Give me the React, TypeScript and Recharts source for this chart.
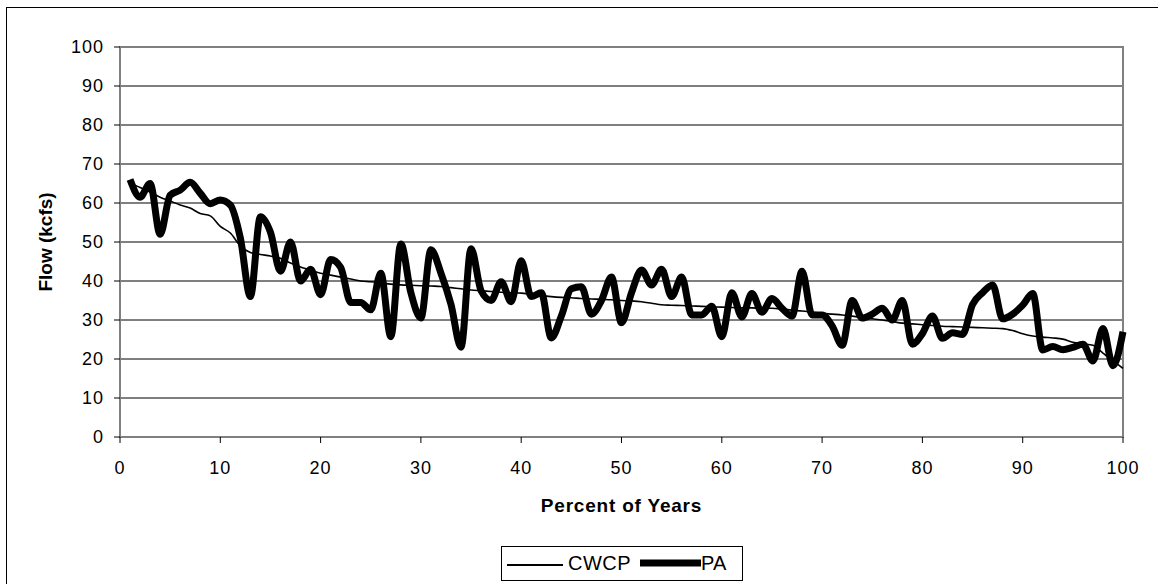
import React from 'react';
import {
  LineChart,
  Line,
  XAxis,
  YAxis,
  CartesianGrid,
  ReferenceArea,
} from 'recharts';

// Percent of years (x positions of each ranked year)
const PERCENT = [
  1, 2, 3, 4, 5, 6, 7, 8, 9, 10,
  11, 12, 13, 14, 15, 16, 17, 18, 19, 20,
  21, 22, 23, 24, 25, 26, 27, 28, 29, 30,
  31, 32, 33, 34, 35, 36, 37, 38, 39, 40,
  41, 42, 43, 44, 45, 46, 47, 48, 49, 50,
  51, 52, 53, 54, 55, 56, 57, 58, 59, 60,
  61, 62, 63, 64, 65, 66, 67, 68, 69, 70,
  71, 72, 73, 74, 75, 76, 77, 78, 79, 80,
  81, 82, 83, 84, 85, 86, 87, 88, 89, 90,
  91, 92, 93, 94, 95, 96, 97, 98, 99, 100,
];

// Flow (kcfs), CWCP exceedance
const CWCP = [
  65, 64, 62.8, 61.5, 60.5, 59.5, 58.7, 57.3, 56.7, 54,
  52.3, 49, 47.3, 46.8, 46.4, 45.8, 44.6, 43.6, 42.8, 42,
  41.5, 41, 40.5, 40, 39.8, 39.5, 39.2, 39, 38.9, 38.8,
  38.7, 38.6, 38.3, 38, 37.7, 37.5, 37.3, 37.1, 37, 36.9,
  36.6, 36.3, 36, 35.8, 35.7, 35.5, 35.4, 35.3, 35.2, 35,
  34.9, 34.7, 34.3, 33.9, 33.8, 33.7, 33.6, 33.5, 33.4, 33.3,
  33.2, 33.1, 33.1, 33, 33, 32.8, 32.5, 32.3, 32, 31.7,
  31.5, 31.3, 31, 30.6, 30.3, 30, 29.6, 29.2, 29, 28.8,
  28.6, 28.4, 28.3, 28.2, 28.1, 28, 27.9, 27.8, 27.3, 26.5,
  25.9, 25.6, 25.4, 25.1, 24.3, 23.9, 23.5, 21.5, 19.5, 17.6,
];

// Flow (kcfs), PA in the same year order
const PA = [
  66, 61.5, 65, 52, 62, 63.3, 65.3, 62.5, 59.8, 60.8,
  59.5, 51, 36, 56.5, 52.5, 42.5, 50, 40, 43, 36.5,
  45.5, 43.5, 34.5, 34.5, 32.6, 42, 25.7, 49.5, 37, 30.5,
  48, 42, 34, 23, 48.3, 37.5, 35, 39.8, 34.7, 45.2,
  36, 37, 25.4, 31, 38, 38.5, 31.5, 35, 41, 29.3,
  37, 42.8, 39, 43, 36, 41, 31.3, 31.3, 33.5, 25.7,
  37, 30.8, 36.8, 32, 35.5, 33, 31, 42.5, 31.3, 31.3,
  28.5, 23.5, 35, 30.5, 31.5, 33, 30, 35, 23.8, 26.5,
  31, 25.3, 26.7, 26.3, 34, 37, 39, 30.3, 31.5, 33.8,
  36.8, 22.3, 23.2, 22.4, 23, 23.8, 19.5, 27.8, 18.3, 27,
];

const X_TICKS = [0, 10, 20, 30, 40, 50, 60, 70, 80, 90, 100];
const Y_TICKS = [0, 10, 20, 30, 40, 50, 60, 70, 80, 90, 100];

const FONT = 'Arial, "Liberation Sans", Helvetica, sans-serif';

const chartData = PERCENT.map((p, i) => ({
  percent: p,
  cwcp: CWCP[i],
  pa: PA[i],
}));

// Excel-style boxed legend under the plot
function FlowLegend() {
  return (
    <div
      style={{
        position: 'absolute',
        left: 501,
        top: 546,
        boxSizing: 'border-box',
        width: 242,
        height: 35,
        border: '1px solid #000',
        background: '#fff',
        display: 'flex',
        alignItems: 'center',
        fontFamily: FONT,
        fontSize: 20,
        color: '#000',
      }}
    >
      <svg width={61} height={20} style={{ marginLeft: 5 }}>
        <line x1={0} y1={11} x2={56} y2={11} stroke="#000" strokeWidth={2} />
      </svg>
      <span style={{ marginLeft: 0, letterSpacing: 0.5 }}>CWCP</span>
      <svg width={71} height={20} style={{ marginLeft: 9 }}>
        <line x1={0} y1={9} x2={61} y2={9} stroke="#000" strokeWidth={7} />
      </svg>
      <span style={{ marginLeft: -10 }}>PA</span>
    </div>
  );
}

export default function App() {
  return (
    <div
      style={{
        position: 'absolute',
        left: 0,
        top: 0,
        width: 1158,
        height: 584,
        overflow: 'hidden',
        background: '#fff',
      }}
    >
      <div
        style={{
          position: 'absolute',
          left: 6,
          top: 7,
          width: 1170,
          height: 600,
          border: '1.5px solid #000',
        }}
      />
      <div style={{ position: 'absolute', left: 0, top: 0 }}>
        <LineChart
          width={1158}
          height={584}
          data={chartData}
          margin={{ top: 47, right: 35, left: 40, bottom: 67 }}
          style={{ fontFamily: FONT }}
        >
          <CartesianGrid horizontal vertical={false} stroke="#000" strokeWidth={1} />
          <XAxis
            dataKey="percent"
            type="number"
            domain={[0, 100]}
            ticks={X_TICKS}
            interval={0}
            height={80}
            tickSize={6}
            tickMargin={18}
            axisLine={{ stroke: '#808080', strokeWidth: 2 }}
            tickLine={{ stroke: '#000' }}
            tick={{ fill: '#000', fontSize: 18, letterSpacing: 1 }}
            label={{
              value: 'Percent of Years',
              position: 'insideBottom',
              offset: 5,
              style: { fontSize: 19, fontWeight: 'bold', fill: '#000', letterSpacing: 0.8 },
            }}
          />
          <YAxis
            type="number"
            domain={[0, 100]}
            ticks={Y_TICKS}
            interval={0}
            width={80}
            tickSize={6}
            tickMargin={10}
            axisLine={{ stroke: '#808080', strokeWidth: 2 }}
            tickLine={{ stroke: '#000' }}
            tick={{ fill: '#000', fontSize: 18, letterSpacing: 1 }}
            label={{
              value: 'Flow (kcfs)',
              angle: -90,
              position: 'insideLeft',
              offset: 5,
              style: { fontSize: 19, fontWeight: 'bold', fill: '#000', textAnchor: 'middle' },
            }}
          />
          <ReferenceArea
            x1={0}
            x2={100}
            y1={0}
            y2={100}
            fill="none"
            stroke="#808080"
            strokeWidth={2}
            ifOverflow="visible"
          />
          <Line
            type="monotone"
            dataKey="cwcp"
            name="CWCP"
            stroke="#000"
            strokeWidth={1.6}
            dot={false}
            isAnimationActive={false}
          />
          <Line
            type="monotone"
            dataKey="pa"
            name="PA"
            stroke="#000"
            strokeWidth={7}
            dot={false}
            strokeLinejoin="round"
            isAnimationActive={false}
          />
        </LineChart>
      </div>
      <FlowLegend />
    </div>
  );
}
